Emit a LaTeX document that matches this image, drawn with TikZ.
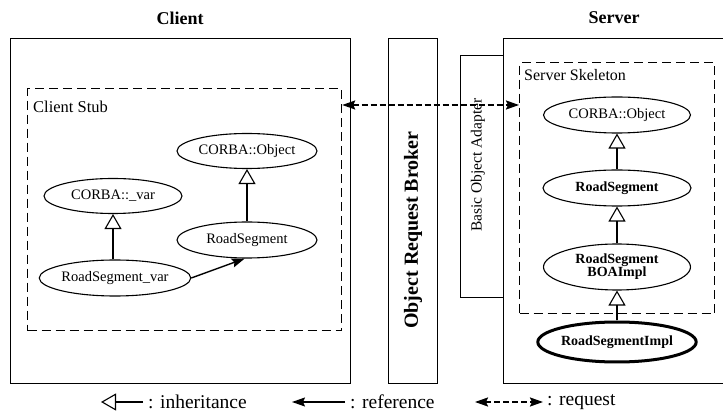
\documentclass[tikz,border=0pt]{standalone}
\usepackage{fontspec}
\setmainfont{Liberation Serif}
\usetikzlibrary{shapes.geometric,arrows.meta,calc}

\begin{document}
\begin{tikzpicture}[x=1pt,y=-1pt,
  box/.style={draw, line width=1.1pt, inner sep=0pt, anchor=north west},
  dbox/.style={draw, line width=1.2pt, dash pattern=on 9pt off 5pt, inner sep=0pt, anchor=north west},
  cls/.style={draw, ellipse, line width=1.1pt, inner sep=0pt, align=center,
              font=\fontsize{14.5}{15}\selectfont},
  clsb/.style={cls, font=\fontsize{14}{15}\selectfont\bfseries},
  title/.style={font=\fontsize{18}{19}\selectfont\bfseries},
  lbl/.style={font=\fontsize{16.5}{17}\selectfont, anchor=west, inner sep=0pt},
  legtxt/.style={font=\fontsize{19.5}{20}\selectfont, anchor=west, inner sep=0pt},
  inh/.style={line width=1.1pt, -{Triangle[open, width=17pt, length=15pt, line width=1.1pt]}},
  ref/.style={line width=1.4pt, -{Stealth[length=13pt, width=9pt, inset=2pt]}},
  req/.style={line width=1.8pt, dash pattern=on 6pt off 3pt,
              {Stealth[length=13pt, width=9pt, inset=2pt]}-{Stealth[length=13pt, width=9pt, inset=2pt]}},
]
\useasboundingbox (0,0) rectangle (723,419);

% titles
\node[title] (tclient) at (180,18) {Client};
\node[title] (tserver) at (614,18) {Server};

% client side
\node[box, minimum width=340pt, minimum height=345pt] (client) at (10,38) {};
\node[dbox, minimum width=314pt, minimum height=242pt] (stub) at (27,88) {};
\node[lbl] (stubl) at (33,107) {Client Stub};

\node[cls, minimum width=140pt, minimum height=35pt] (cobj) at (247,151) {CORBA::Object};
\node[cls, minimum width=138pt, minimum height=35pt] (cvar) at (113,196) {CORBA::\_var};
\node[cls, minimum width=140pt, minimum height=36pt] (crs) at (247,240) {RoadSegment};
\node[cls, minimum width=150pt, minimum height=36pt] (crsv) at (115,278) {RoadSegment\_var};

\draw[inh] (crs) -- (crs |- cobj.south);
\draw[inh] (crsv.north -| cvar) -- (cvar.south);
\draw[ref] (crsv.east) -- (crs.263);

% object request broker
\node[box, minimum width=49pt, minimum height=345pt] (orb) at (388,38) {};
\node[rotate=90, font=\fontsize{20}{21}\selectfont\bfseries] (orbl) at (413,230) {Object Request Broker};

% basic object adapter
\node[box, minimum width=43pt, minimum height=242pt] (boa) at (460,55) {};
\node[rotate=90, font=\fontsize{15.5}{16}\selectfont] (boal) at (478,165) {Basic Object Adapter};

% server side
\node[box, minimum width=240pt, minimum height=345pt] (server) at (503,38) {};
\node[dbox, minimum width=195pt, minimum height=251pt] (skel) at (519,62) {};
\node[lbl, font=\fontsize{16}{17}\selectfont] (skell) at (524,75) {Server Skeleton};

\node[cls, minimum width=147pt, minimum height=36pt] (sobj) at (617,115) {CORBA::Object};
\node[clsb, minimum width=148pt, minimum height=36pt] (srs) at (617,188) {RoadSegment};
\node[clsb, minimum width=147pt, minimum height=46pt] (sboa) at (617,267) {RoadSegment\\[-2pt]BOAImpl};
\node[clsb, line width=3pt, minimum width=148pt, minimum height=40pt] (simpl) at (617,342) {RoadSegmentImpl};

\draw[inh] (srs) -- (sobj);
\draw[inh] (sboa) -- (srs);
\draw[inh] (simpl) -- (sboa);

% request between stub and skeleton
\coordinate (reqy) at (0,105);
\draw[req] (stub.east |- reqy) -- (skel.west |- reqy);

% legend
\coordinate (li1) at (143,402);
\coordinate (li0) at (101,402);
\draw[inh] (li1) -- (li0);
\node[legtxt] (linh) at (148,402) {: inheritance};

\coordinate (lr1) at (345,402);
\coordinate (lr0) at (292,402);
\draw[ref] (lr1) -- (lr0);
\node[legtxt] (lref) at (350,402) {: reference};

\coordinate (lq0) at (475,402);
\coordinate (lq1) at (543,402);
\draw[req] (lq0) -- (lq1);
\node[legtxt] (lreq) at (547,402) {: request};
\end{tikzpicture}
\end{document}
